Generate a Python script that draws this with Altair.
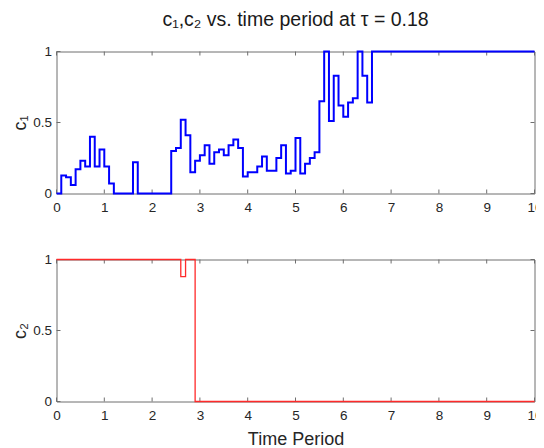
import altair as alt
import pandas as pd

# ---- data ----
c1_t = [0.0, 0.1, 0.2, 0.3, 0.4, 0.5, 0.6, 0.7, 0.8, 0.9, 1.0, 1.1, 1.2, 1.6, 1.7,
        2.4, 2.5, 2.6, 2.7, 2.8, 2.9, 3.0, 3.1, 3.2, 3.3, 3.4, 3.5, 3.6, 3.7, 3.8,
        3.9, 4.0, 4.2, 4.3, 4.4, 4.6, 4.7, 4.8, 4.9, 5.0, 5.1, 5.2, 5.3, 5.4, 5.5,
        5.6, 5.7, 5.8, 5.9, 6.0, 6.1, 6.2, 6.3, 6.4, 6.5, 6.6, 10.0]
c1_v = [0.0, 0.126, 0.114, 0.06, 0.17, 0.23, 0.19, 0.40, 0.19, 0.31, 0.19, 0.07, 0.0, 0.22, 0.0,
        0.30, 0.32, 0.52, 0.41, 0.15, 0.23, 0.27, 0.34, 0.21, 0.29, 0.31, 0.27, 0.34, 0.38, 0.32,
        0.12, 0.15, 0.19, 0.26, 0.16, 0.25, 0.34, 0.14, 0.16, 0.39, 0.14, 0.21, 0.25, 0.29, 0.65,
        1.0, 0.51, 0.83, 0.62, 0.54, 0.64, 0.67, 1.0, 0.83, 0.64, 1.0, 1.0]

c2_t = [0.0, 2.6, 2.7, 2.9, 10.0]
c2_v = [1.0, 0.88, 1.0, 0.0, 0.0]

x_ticks = [0, 1, 2, 3, 4, 5, 6, 7, 8, 9, 10]
y_ticks = [0, 0.5, 1]

W, H = 478, 142
TXT = "#262626"
FRAME = "#6e6e6e"
FONT = "Liberation Sans"


def panel(t, v, color, sw, ytitle, xtitle=None, title=None):
    df = pd.DataFrame({"t": t, "v": v})
    xs = alt.Scale(domain=[0, 10], nice=False, zero=False)
    ys = alt.Scale(domain=[0, 1], nice=False, zero=False)
    xax_kw = dict(values=x_ticks, ticks=False, tickSize=0, domain=False, grid=False,
                  labelPadding=7, labelFlush=False)
    if xtitle:
        xax = alt.Axis(title=xtitle, titlePadding=8, **xax_kw)
    else:
        xax = alt.Axis(title=None, **xax_kw)
    yax = alt.Axis(values=y_ticks, format="~g", title=ytitle, ticks=False, tickSize=0,
                   domain=False, grid=False, labelPadding=5, titlePadding=3,
                   labelFlush=False)
    X = alt.X("t:Q", scale=xs, axis=xax)
    Y = alt.Y("v:Q", scale=ys, axis=yax)

    line = alt.Chart(df).mark_line(interpolate="step-after", color=color,
                                   strokeWidth=sw).encode(x=X, y=Y)
    xt = pd.DataFrame({"t": x_ticks})
    yt = pd.DataFrame({"v": y_ticks})
    tick_b = alt.Chart(xt).mark_rule(color=FRAME, strokeWidth=1).encode(
        x=X, y=alt.value(H), y2=alt.value(H - 4))
    tick_t = alt.Chart(xt).mark_rule(color=FRAME, strokeWidth=1).encode(
        x=X, y=alt.value(0), y2=alt.value(4))
    tick_l = alt.Chart(yt).mark_rule(color=FRAME, strokeWidth=1).encode(
        y=Y, x=alt.value(0), x2=alt.value(4))
    tick_r = alt.Chart(yt).mark_rule(color=FRAME, strokeWidth=1).encode(
        y=Y, x=alt.value(W - 4), x2=alt.value(W))
    props = dict(width=W, height=H)
    if title:
        props["title"] = alt.TitleParams(text=title, fontSize=19.5, font=FONT,
                                         fontWeight="normal", color="#1a1a1a",
                                         offset=14, anchor="middle")
    return alt.layer(tick_b, tick_t, tick_l, tick_r, line).properties(**props)


top = panel(c1_t, c1_v, "#0000ff", 2, "c₁", title="c₁,c₂ vs. time period at τ = 0.18")
bottom = panel(c2_t, c2_v, "#ff2a2a", 1.3, "c₂", xtitle="Time Period")

chart = alt.vconcat(top, bottom, spacing=37).properties(
    padding={"left": 2.5, "top": 1.5, "right": -8, "bottom": 0},
    background="white",
).configure_view(
    stroke=FRAME, strokeWidth=1
).configure_axis(
    labelFont=FONT, labelFontSize=13.5, labelColor=TXT,
    titleFont=FONT, titleFontSize=18, titleColor=TXT, titleFontWeight="normal",
)

chart.save("out.html", embed_options={"renderer": "svg", "actions": False})
